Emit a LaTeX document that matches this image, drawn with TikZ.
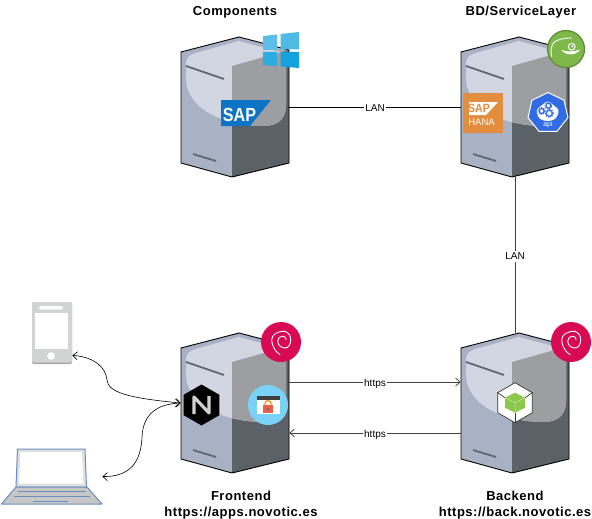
\documentclass[tikz,border=0pt]{standalone}
\usepackage{fontspec}
\setmainfont{Liberation Sans}
\usetikzlibrary{arrows.meta,shapes.geometric}

\definecolor{faceleft}{HTML}{A9B2C4}
\definecolor{facedark}{HTML}{5A6167}
\definecolor{faceglow}{HTML}{D2D6E2}
\definecolor{facegrey}{HTML}{9C9EA1}
\definecolor{barcolor}{HTML}{5F696D}
\definecolor{sapblue}{HTML}{0B74C4}
\definecolor{winblue}{HTML}{14A3DE}
\definecolor{hanaorange}{HTML}{E38E3F}
\definecolor{suse}{HTML}{7FB84A}
\definecolor{kubeblue}{HTML}{326CE5}
\definecolor{debianred}{HTML}{D70A53}
\definecolor{lockblue}{HTML}{7AD3F7}
\definecolor{lockred}{HTML}{E8604C}
\definecolor{nodegreen}{HTML}{8CC84B}
\definecolor{phonegrey}{HTML}{D2D3D3}
\definecolor{laptopblue}{HTML}{6C8EBF}

\newcommand{\serverglow}{(-49,44) .. controls (-49,50) and (-44,53) .. (-38,54.5) -- (4,66) -- (45,55) .. controls (50,53) and (51,50) .. (51,44)
  -- (51,2) .. controls (51,-10) and (45,-19) .. (28,-19) .. controls (0,-19) and (-49,-8) .. (-49,30) -- cycle}

\tikzset{
  serverbox/.style={minimum width=108pt,minimum height=140pt,inner sep=0pt},
  title/.style={font=\bfseries\fontsize{13}{16}\selectfont\addfontfeature{LetterSpace=4},align=center},
  link/.style={fill=white,inner sep=1pt,yshift=-1.5pt,text height=7.2pt,text depth=2.2pt,font=\fontsize{10}{12}\selectfont},
  serverpic/.pic={
    \fill[faceleft] (-54,55) -- (4,70) -- (54,57) -- (54,-56) -- (-3,-70) -- (-54,-56) -- cycle;
    \fill[facedark] (-3,41) -- (54,57) -- (54,-56) -- (-3,-70) -- cycle;
    \fill[faceglow] \serverglow;
    \begin{scope}
      \clip \serverglow;
      \fill[facegrey] (-3,41) -- (54,57) -- (54,-56) -- (-3,-70) -- cycle;
    \end{scope}
    \draw[black,line width=.9pt,line join=round] (-54,55) -- (4,70) -- (54,57) -- (54,-56) -- (-3,-70) -- (-54,-56) -- cycle;
    \draw[barcolor,line width=1.8pt] (-49,41) -- (-11,28);
    \draw[barcolor,line width=1.8pt] (-42,-47) -- (-19,-54);
  },
  debianpic/.pic={
    \draw[white,line width=.9pt,line cap=round] (4,10.7) .. controls (-4,11) and (-9.3,7) .. (-9.3,2.3)
      .. controls (-9.3,-2) and (-7,-9) .. (-1,-12.7);
    \draw[white,line width=.9pt,line cap=round] (4,10.7) .. controls (8,9) and (9.7,6) .. (9.7,2.3)
      .. controls (9.7,-3) and (7,-6) .. (4,-6) .. controls (0,-6) and (-3.3,-3) .. (-3.3,1)
      .. controls (-3.3,4) and (-1,5.7) .. (2.3,5.7) .. controls (4,5.7) and (5,4) .. (5,2.3);
  }
}

\begin{document}
\begin{tikzpicture}[x=1pt,y=1pt,node distance=280pt,>={Straight Barb[length=4.5pt,width=8pt]},line width=.75pt]
  \useasboundingbox (0,0) rectangle (592,-519);

  % servers
  \node[serverbox] (components) at (235,-107) {};
  \node[serverbox] (servicelayer) [right of=components] {};
  \node[serverbox] (frontend) at (235,-403) {};
  \node[serverbox] (backend) [right of=frontend] {};
  \foreach \s in {components,servicelayer,frontend,backend}
    \pic at (\s) {serverpic};

  % titles
  \node[title] (componentstitle) at (235,-12) {Components};
  \node[title] (servicelayertitle) at (521,-12) {BD/ServiceLayer};
  \node[title] (frontendtitle) at (241,-505) {Frontend\\https://apps.novotic.es};
  \node[title] (backendtitle) at (515,-505) {Backend\\https://back.novotic.es};

  % links
  \draw (components) -- node[link] (lanh) {LAN} (servicelayer);
  \draw[draw=black!75] (servicelayer) -- node[link,pos=.5] (lanv) {LAN} (backend);
  \draw[->,draw=black!75] ([yshift=21pt]frontend.east) -- node[link] (httpsa) {https} ([yshift=21pt]backend.west);
  \draw[->,draw=black!75] ([yshift=-30pt]backend.west) -- node[link] (httpsb) {https} ([yshift=-30pt]frontend.east);

  % windows
  \node[inner sep=0pt,minimum size=36pt] (windows) at (281,-50) {};
  \fill[winblue!70!white] (263,-36) -- (277,-34.5) -- (277,-49.5) -- (263,-50) -- cycle;
  \fill[winblue!75!white] (280.5,-34) -- (299,-32) -- (299,-49.5) -- (280.5,-49.5) -- cycle;
  \fill[winblue!90!white] (263,-52) -- (277,-52) -- (277,-66) -- (263,-65) -- cycle;
  \fill[winblue] (280.5,-52) -- (299,-52) -- (299,-68) -- (280.5,-66.5) -- cycle;

  % sap
  \fill[sapblue] (221,-100) -- (271,-100) -- (250,-126) -- (221,-126) -- cycle;
  \node[text=white,inner sep=0pt,font=\bfseries\fontsize{19}{19}\selectfont] (saplogo) at (239.5,-114.5) {\scalebox{.85}[1]{SAP}};

  % opensuse
  \node[circle,fill=suse,draw=suse!75!black,line width=1.2pt,minimum size=37pt,inner sep=0pt] (suselogo) at (566,-49) {};
  \fill[white] (561.5,-50) .. controls (566,-52) and (574,-52) .. (580,-49.5) .. controls (576,-56) and (566,-56) .. (561.5,-50) -- cycle;
  \draw[white,line width=1pt] (571.7,-46.7) circle (3.4pt);
  \fill[white] (572.3,-46.2) circle (1.2pt);
  \draw[white!80!suse,line width=1.1pt,line cap=round] (551.7,-56.5) .. controls (550,-48) and (552,-43) .. (556,-41)
    .. controls (561,-38.5) and (566,-38) .. (571,-38);

  % hana
  \node[fill=hanaorange,minimum size=40pt,inner sep=0pt] (hana) at (483,-113) {};
  \fill[white] (469,-102) -- (498,-102) -- (486,-115) -- (469,-115) -- cycle;
  \node[text=hanaorange,inner sep=0pt,font=\bfseries\fontsize{12}{12}\selectfont] (hanasap) at (479,-108.5) {\scalebox{.88}[1]{SAP}};
  \node[text=white,inner sep=0pt,font=\fontsize{9.5}{10}\selectfont] (hanatext) at (481.5,-122.5) {HANA};

  % api
  \node[regular polygon,regular polygon sides=7,fill=kubeblue,draw=white,line width=1pt,minimum size=41pt,inner sep=0pt] (api) at (548,-113) {};
  \fill[white,rounded corners=3pt] (536,-110) -- (547.7,-100.5) -- (559.5,-110) -- (556,-119) -- (547.7,-121.5) -- (539,-119) -- cycle;
  \foreach \gx/\gy/\gr in {541.7/-111/2.4,548.3/-105.7/2.4,549.3/-113.3/3} {
    \draw[kubeblue,line width=1.2pt] (\gx,\gy) circle (\gr pt);
    \draw[kubeblue,line width=1pt,dash pattern=on 1.2pt off 1.2pt] (\gx,\gy) circle (\gr pt + 1pt);
  }
  \node[text=white,inner sep=0pt,font=\fontsize{7}{7}\selectfont] (apitext) at (548,-125) {api};

  % debian
  \node[circle,fill=debianred,minimum size=40pt,inner sep=0pt] (frontendos) at (281,-342) {};
  \node[circle,fill=debianred,minimum size=40pt,inner sep=0pt] (backendos) at (571,-342) {};
  \pic at (frontendos) {debianpic};
  \pic at (backendos) {debianpic};

  % nginx
  \node[regular polygon,regular polygon sides=6,shape border rotate=90,fill=black,minimum size=41pt,inner sep=0pt] (nginx) at (201.5,-405) {};
  \draw[black!18,line width=3.2pt,line join=round] (194,-414) -- (194,-397) -- (209,-413) -- (209,-396);

  % lock
  \node[circle,fill=lockblue,minimum size=40pt,inner sep=0pt] (lockapp) at (268,-405) {};
  \fill[white] (257,-399) rectangle (280,-414);
  \fill[black!75] (257,-396) rectangle (280,-399.5);
  \fill[lockred] (263,-405) rectangle (273,-413);
  \draw[orange!90!yellow,line width=1.1pt] (265,-405) -- (265,-403.5) arc (180:0:3) -- (271,-405);
  \fill[black!60] (268,-409) circle (1.2pt);

  % node box
  \node[regular polygon,regular polygon sides=6,shape border rotate=90,fill=white,draw=black!80,line width=.7pt,minimum size=40pt,inner sep=0pt] (nodebox) at (515,-402.7) {};
  \draw[black!80,line width=.7pt] (515,-412.7) -- (nodebox.south);
  \draw[black!80,line width=.7pt] (nodebox.150) -- (505,-397.7) (nodebox.30) -- (525,-397.7);
  \fill[nodegreen] (515,-392.7) -- (525,-397.7) -- (525,-407.7) -- (515,-412.7) -- (505,-407.7) -- (505,-397.7) -- cycle;
  \draw[white!60!nodegreen,line width=.5pt] (505,-397.7) -- (515,-402.7) -- (525,-397.7) (515,-402.7) -- (515,-412.7);

  % phone
  \node[fill=black!35,rounded corners=2pt,minimum width=40pt,minimum height=62pt,inner sep=0pt] (phone) at (52,-333) {};
  \fill[phonegrey,rounded corners=2pt] (32,-302) rectangle (72,-362.5);
  \fill[white] (35,-313) rectangle (68,-349);
  \fill[white,rounded corners=1.5pt] (39,-306) rectangle (63,-309.5);
  \fill[white] (51,-356) circle (3.8pt);

  % laptop
  \node[minimum width=101pt,minimum height=55pt,inner sep=0pt] (laptop) at (51.5,-476.5) {};
  \filldraw[fill=black!12,draw=laptopblue,line width=1pt] (17.5,-449) -- (85,-449) -- (86.5,-487) -- (16,-487) -- cycle;
  \fill[white] (20.5,-452) -- (82,-452) -- (83.5,-483.5) -- (19,-483.5) -- cycle;
  \filldraw[fill=black!22,draw=laptopblue,line width=1pt,line join=round] (16,-487) -- (87,-487) -- (102,-504) -- (1.5,-504) -- cycle;
  \draw[laptopblue,line width=.9pt] (18,-491) -- (86,-491) (14,-496) -- (90,-496) (33,-501) -- (68,-501);

  % client curves
  \draw[<->,line width=.6pt] ([yshift=9pt]phone.south east) .. controls (95,-357) and (106,-368) .. (107,-380)
    .. controls (108,-392) and (127,-398) .. (frontend.west);
  \draw[<->,line width=.6pt] (laptop.east) .. controls (130,-477) and (141,-462) .. (142,-437)
    .. controls (143,-414) and (157,-404) .. (frontend.west);
\end{tikzpicture}
\end{document}
